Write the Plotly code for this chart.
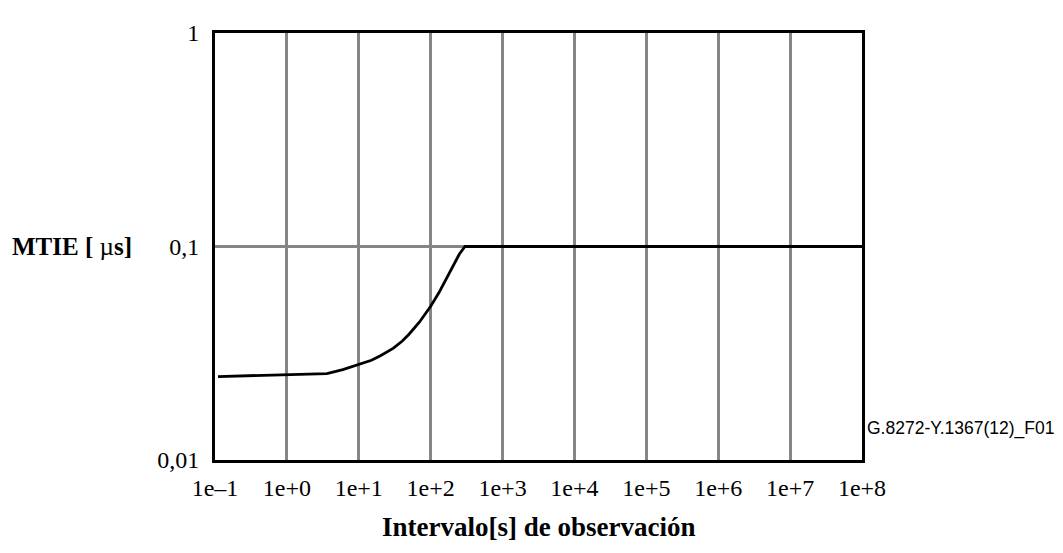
import plotly.graph_objects as go

# Data
tau = [0.11, 1.0, 3.6, 6, 10, 15, 20, 30, 40, 50, 70, 100, 130, 160, 200, 250, 300, 1e8]
mtie = [0.0246, 0.0250, 0.0254, 0.0265, 0.0279, 0.0293, 0.0308, 0.0333, 0.0360, 0.0388, 0.0443, 0.0525, 0.0607, 0.0690, 0.0800, 0.0920, 0.100, 0.100]

x_tickvals = [1e-1, 1e0, 1e1, 1e2, 1e3, 1e4, 1e5, 1e6, 1e7, 1e8]
x_ticktext = ["1e\u20131", "1e+0", "1e+1", "1e+2", "1e+3", "1e+4", "1e+5", "1e+6", "1e+7", "1e+8"]
y_tickvals = [0.01, 0.1, 1]
y_ticktext = ["0,01", "0,1", "1"]

fig = go.Figure()
fig.add_trace(go.Scatter(x=tau, y=mtie, mode="lines",
                         line=dict(color="black", width=2.8, shape="linear"),
                         showlegend=False, hoverinfo="skip"))

serif = "Liberation Serif, Times New Roman, serif"
W_PLOT = 647
H_PLOT = 437

fig.update_layout(
    width=1063, height=553,
    margin=dict(l=207, r=209, t=15, b=101),
    paper_bgcolor="white", plot_bgcolor="white",
    font=dict(family=serif, color="black", size=20),
    xaxis=dict(type="log", range=[-1, 8], tickvals=x_tickvals, ticktext=x_ticktext,
               showgrid=True, gridcolor="#858585", gridwidth=2.5,
               showline=True, linecolor="black", linewidth=3, mirror=True,
               ticks="", ticklen=0, zeroline=False, ticklabelstandoff=4,
               tickfont=dict(family=serif, size=24, color="black")),
    yaxis=dict(type="log", range=[-2, 0], tickvals=y_tickvals, ticktext=y_ticktext,
               showgrid=True, gridcolor="#858585", gridwidth=2.5,
               showline=True, linecolor="black", linewidth=3, mirror=True,
               ticks="", ticklen=0, zeroline=False, ticklabelstandoff=8,
               tickfont=dict(family=serif, size=24, color="black")),
    annotations=[
        dict(text="<b>MTIE [</b> \u00b5<b>s]</b>", xref="paper", yref="paper",
             x=-(215 - 10) / W_PLOT, y=0.5, xanchor="left", yanchor="middle",
             showarrow=False, font=dict(family=serif, size=25, color="black")),
        dict(text="<b>Intervalo[s] de observación</b>", xref="paper", yref="paper",
             x=0.5, y=-(529 - 460) / H_PLOT, xanchor="center", yanchor="middle",
             showarrow=False, font=dict(family=serif, size=27, color="black")),
        dict(text="G.8272-Y.1367(12)_F01", xref="paper", yref="paper",
             x=1 + 3 / W_PLOT, y=(460 - 428) / H_PLOT, xanchor="left", yanchor="middle",
             showarrow=False, font=dict(family="Liberation Sans, Arial, sans-serif", size=17.5, color="black")),
    ],
)

fig.write_html("out.html")
